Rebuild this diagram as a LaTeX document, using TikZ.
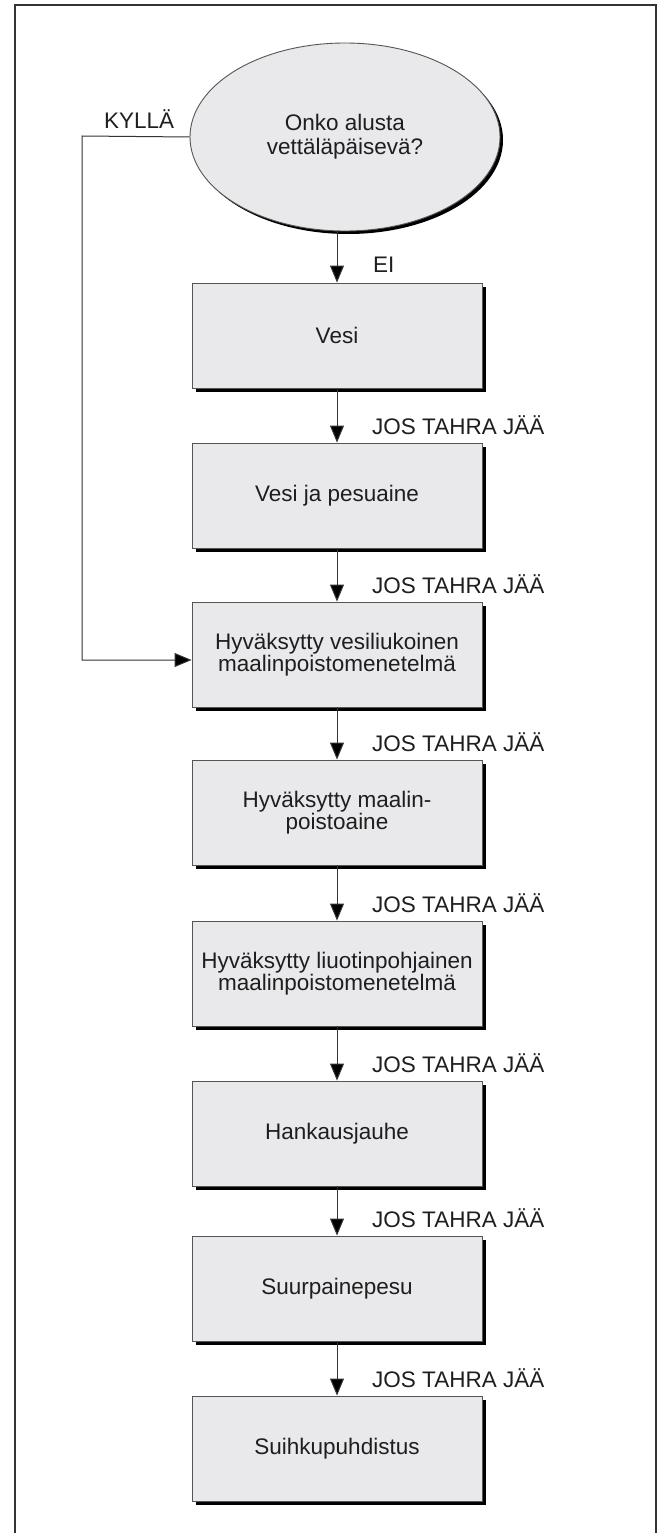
\documentclass[tikz,border=0pt]{standalone}
\usepackage{fontspec}
\setmainfont{Liberation Sans}
\usetikzlibrary{shapes.geometric,arrows.meta,shadows}
\definecolor{boxfill}{HTML}{E9E9EB}
\definecolor{inkc}{HTML}{1E1E1E}
\definecolor{edgec}{HTML}{555555}
\definecolor{linec}{HTML}{333333}
\tikzset{
  stepbox/.style={rectangle, draw=edgec, line width=0.9pt, fill=boxfill,
    minimum width=290pt, minimum height=105pt, inner sep=0pt, align=center,
    text=inkc, font=\fontsize{22.5}{22}\selectfont,
    drop shadow={shadow xshift=4pt, shadow yshift=-4pt, fill=black, opacity=1}},
  decision/.style={ellipse, draw=edgec, line width=0.9pt, fill=boxfill,
    minimum width=310pt, minimum height=188pt, inner sep=0pt, align=center,
    text=inkc, font=\fontsize{22.5}{24}\selectfont,
    drop shadow={shadow xshift=3pt, shadow yshift=-3pt, fill=black, opacity=1}},
  lbl/.style={anchor=base west, inner sep=0pt, text=inkc, font=\fontsize{22.5}{22}\selectfont},
  arr/.style={draw=linec, line width=1pt, -{Triangle[width=14pt,length=17pt,fill=black]}},
  frameline/.style={draw=linec, line width=1.6pt}
}
\begin{document}
\begin{tikzpicture}[x=1pt,y=-1pt]
\useasboundingbox (0,0) rectangle (663,1533);
% frame (open at bottom)
\coordinate (fbl) at (15,1533);
\coordinate (ftl) at (15,5);
\coordinate (ftr) at (656,5);
\coordinate (fbr) at (656,1533);
\draw[frameline] (fbl) -- (ftl) -- (ftr) -- (fbr);

\node[decision] (q) at (345,137) {Onko alusta\\vettäläpäisevä?};

\node[stepbox] (b1) at (337,335.5) {Vesi};
\node[stepbox] (b2) at (337,495.5) {Vesi ja pesuaine};
\node[stepbox] (b3) at (337,654.5) {Hyväksytty vesiliukoinen\\maalinpoistomenetelmä};
\node[stepbox] (b4) at (337,812.5) {Hyväksytty maalin-\\poistoaine};
\node[stepbox] (b5) at (337,973.5) {Hyväksytty liuotinpohjainen\\maalinpoistomenetelmä};
\node[stepbox] (b6) at (337,1133.5) {Hankausjauhe};
\node[stepbox] (b7) at (337,1288.5) {Suurpainepesu};
\node[stepbox] (b8) at (337,1448.5) {Suihkupuhdistus};

% labels
\node[lbl] (kylla) at (104,129) {KYLLÄ};
\node[lbl] (ei) at (373,272) {EI};
\node[lbl] (l2) at (372,434) {JOS TAHRA JÄÄ};
\node[lbl] (l3) at (372,593) {JOS TAHRA JÄÄ};
\node[lbl] (l4) at (372,751) {JOS TAHRA JÄÄ};
\node[lbl] (l5) at (372,912) {JOS TAHRA JÄÄ};
\node[lbl] (l6) at (372,1072) {JOS TAHRA JÄÄ};
\node[lbl] (l7) at (372,1227) {JOS TAHRA JÄÄ};
\node[lbl] (l8) at (372,1387) {JOS TAHRA JÄÄ};

% connectors
\draw[arr] (q.south -| b1.north) -- (b1.north);
\draw[arr] (b1.south) -- (b2.north);
\draw[arr] (b2.south) -- (b3.north);
\draw[arr] (b3.south) -- (b4.north);
\draw[arr] (b4.south) -- (b5.north);
\draw[arr] (b5.south) -- (b6.north);
\draw[arr] (b6.south) -- (b7.north);
\draw[arr] (b7.south) -- (b8.north);
\coordinate (k) at (82,136);
\draw[arr] (q.west) -- (k) |- ([yshift=-5.5pt]b3.west);
\end{tikzpicture}
\end{document}
